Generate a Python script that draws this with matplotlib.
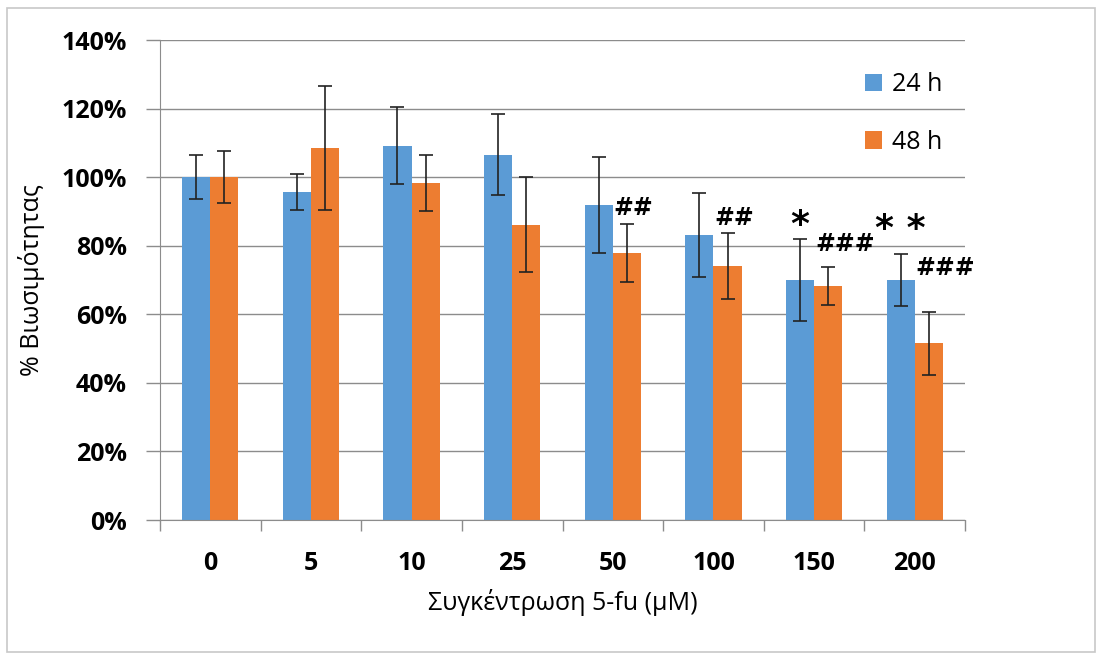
import numpy as np
import matplotlib
matplotlib.use("Agg")
import matplotlib.pyplot as plt
from matplotlib.patches import Rectangle

plt.rcParams["font.family"] = ["Open Sans", "DejaVu Sans"]

conc = ["0", "5", "10", "25", "50", "100", "150", "200"]
v24 = [100.0, 95.7, 109.2, 106.6, 92.0, 83.1, 70.0, 70.0]
e24 = [6.5, 5.2, 11.2, 11.7, 14.0, 12.2, 12.0, 7.7]
v48 = [100.0, 108.5, 98.3, 86.1, 77.9, 74.1, 68.2, 51.5]
e48 = [7.5, 18.0, 8.2, 13.9, 8.5, 9.6, 5.6, 9.1]
# σημάνσεις σημαντικότητας: (ομάδα, κείμενο, ύψος %)
marks = [(4, "##", 91), (5, "##", 88), (6, "*", 86), (6, "###", 80.5),
         (7, "* *", 85), (7, "###", 73.5)]

BLUE, ORANGE = "#5B9BD5", "#ED7D31"
GRID = "#8c8c8c"

fig = plt.figure(figsize=(11.02, 6.6), dpi=100)
fig.patches.append(Rectangle((7 / 1102, 8 / 660), 1088 / 1102, 644 / 660,
                             transform=fig.transFigure, fill=False,
                             edgecolor="#c8c8c8", linewidth=1.2))
ax = fig.add_axes([160 / 1102, 140 / 660, 805 / 1102, 480 / 660])

x = np.arange(len(conc))
w = 0.28
ekw = dict(ecolor="#222222", elinewidth=1.2, capsize=5, capthick=1.2)
ax.bar(x - w / 2, v24, w, color=BLUE, label="24 h", zorder=2)
ax.bar(x + w / 2, v48, w, color=ORANGE, label="48 h", zorder=2)
ax.errorbar(x - w / 2, v24, yerr=e24, fmt="none", zorder=3, **ekw)
ax.errorbar(x + w / 2, v48, yerr=e48, fmt="none", zorder=3, **ekw)

for i, txt, yv in marks:
    if txt.startswith("*"):
        ax.text(x[i] - w / 2, yv, txt, ha="center", va="center",
                fontsize=26, fontweight="bold", family=["DejaVu Sans"])
    else:
        ax.text(x[i] + 0.01, yv, txt, ha="left", va="center",
                fontsize=17, fontweight="bold", family=["DejaVu Sans"])

ax.set_xlim(-0.5, len(conc) - 0.5)
ax.set_ylim(0, 140)
ax.set_yticks(np.arange(0, 141, 20))
ax.set_yticklabels([f"{t}%" for t in range(0, 141, 20)], fontsize=18, fontweight="bold")
ax.set_xticks(x)
ax.set_xticklabels(conc, fontsize=18, fontweight="bold")
ax.set_xticks(np.arange(-0.5, len(conc), 1), minor=True)
ax.tick_params(axis="x", which="major", length=0, pad=22)
ax.tick_params(axis="x", which="minor", length=8, color=GRID, width=1)
ax.tick_params(axis="y", length=10, color=GRID, width=1, pad=14)
ax.yaxis.grid(True, color=GRID, linewidth=1)
ax.set_axisbelow(True)
for s in ["top", "right"]:
    ax.spines[s].set_visible(False)
for s in ["left", "bottom"]:
    ax.spines[s].set_color(GRID)

ax.set_ylabel("% Βιωσιμότητας", fontsize=18, labelpad=12)
ax.set_xlabel("Συγκέντρωση 5-fu (μM)", fontsize=18, labelpad=10)

leg = ax.legend(loc="upper right", bbox_to_anchor=(1.0, 0.98), frameon=False,
                fontsize=18, handlelength=0.7, handleheight=0.7,
                labelspacing=1.3, handletextpad=0.4)

fig.savefig("out.png", dpi=100, facecolor="white")
